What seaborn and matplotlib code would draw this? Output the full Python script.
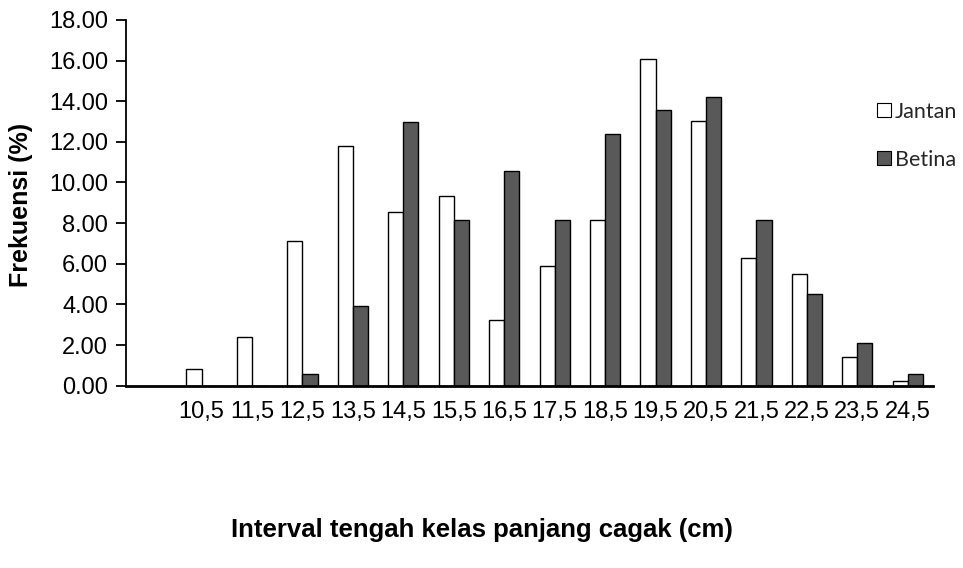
import matplotlib
matplotlib.use("Agg")
import matplotlib.pyplot as plt
import seaborn as sns
import pandas as pd
from matplotlib.ticker import FormatStrFormatter
from matplotlib.patches import Patch

# Fork-length class midpoints (cm) and frequency (%) per sex
kelas = ["10,5", "11,5", "12,5", "13,5", "14,5", "15,5", "16,5", "17,5",
         "18,5", "19,5", "20,5", "21,5", "22,5", "23,5", "24,5"]
jantan = [0.81, 2.41, 7.14, 11.80, 8.55, 9.35, 3.25, 5.89,
          8.14, 16.08, 13.03, 6.30, 5.48, 1.41, 0.22]
betina = [0.00, 0.00, 0.58, 3.90, 12.98, 8.14, 10.55, 8.14,
          12.39, 13.58, 14.19, 8.14, 4.53, 2.12, 0.59]
seri = ["Jantan", "Betina"]
warna = {"Jantan": "#ffffff", "Betina": "#595959"}

df = pd.DataFrame({
    "kelas": kelas * 2,
    "frekuensi": jantan + betina,
    "jenis": [seri[0]] * len(kelas) + [seri[1]] * len(kelas),
})

sns.set_theme(style="white")
plt.rcParams["font.family"] = ["Liberation Sans", "DejaVu Sans"]

fig = plt.figure(figsize=(9.63, 5.68), dpi=100)
ax = fig.add_axes([0.1308, 0.321, 0.838, 0.644])

sns.barplot(data=df, x="kelas", y="frekuensi", hue="jenis", order=kelas,
            hue_order=seri, palette=warna, width=0.6, edgecolor="black",
            linewidth=1.0, legend=False, ax=ax)

ax.set_xlim(-1.5, len(kelas) - 0.5)
ax.set_ylim(0, 18)
ax.set_yticks(range(0, 19, 2))
ax.yaxis.set_major_formatter(FormatStrFormatter("%.2f"))

for s in ["top", "right"]:
    ax.spines[s].set_visible(False)
ax.spines["left"].set_linewidth(1.3)
ax.spines["bottom"].set_linewidth(2.0)
for s in ["left", "bottom"]:
    ax.spines[s].set_color("black")

ax.tick_params(axis="y", which="major", direction="out", length=7, width=1.3,
               color="black", labelsize=17, pad=6, left=True)
ax.tick_params(axis="x", length=0, labelsize=17, pad=11)
for lab in ax.get_xticklabels() + ax.get_yticklabels():
    lab.set_color("black")

ax.set_xlabel("")
ax.set_ylabel("")
fig.text(0.022, 0.64, "Frekuensi (%)", rotation=90, ha="center", va="center",
         fontsize=18, fontweight="bold", color="black")
fig.text(0.50, 0.067, "Interval tengah kelas panjang cagak (cm)", ha="center",
         va="center", fontsize=18.5, fontweight="bold", color="black")

handles = [Patch(facecolor=warna[k], edgecolor="black", linewidth=0.8, label=k)
           for k in seri]
leg = fig.legend(handles=handles, loc="upper left", bbox_to_anchor=(0.9, 0.84),
                 frameon=False, handlelength=0.62, handleheight=0.62,
                 handletextpad=0.2, labelspacing=1.3, borderpad=0,
                 prop={"family": ["Lato", "DejaVu Sans"], "size": 15.5})

fig.savefig("out.png", dpi=100)
